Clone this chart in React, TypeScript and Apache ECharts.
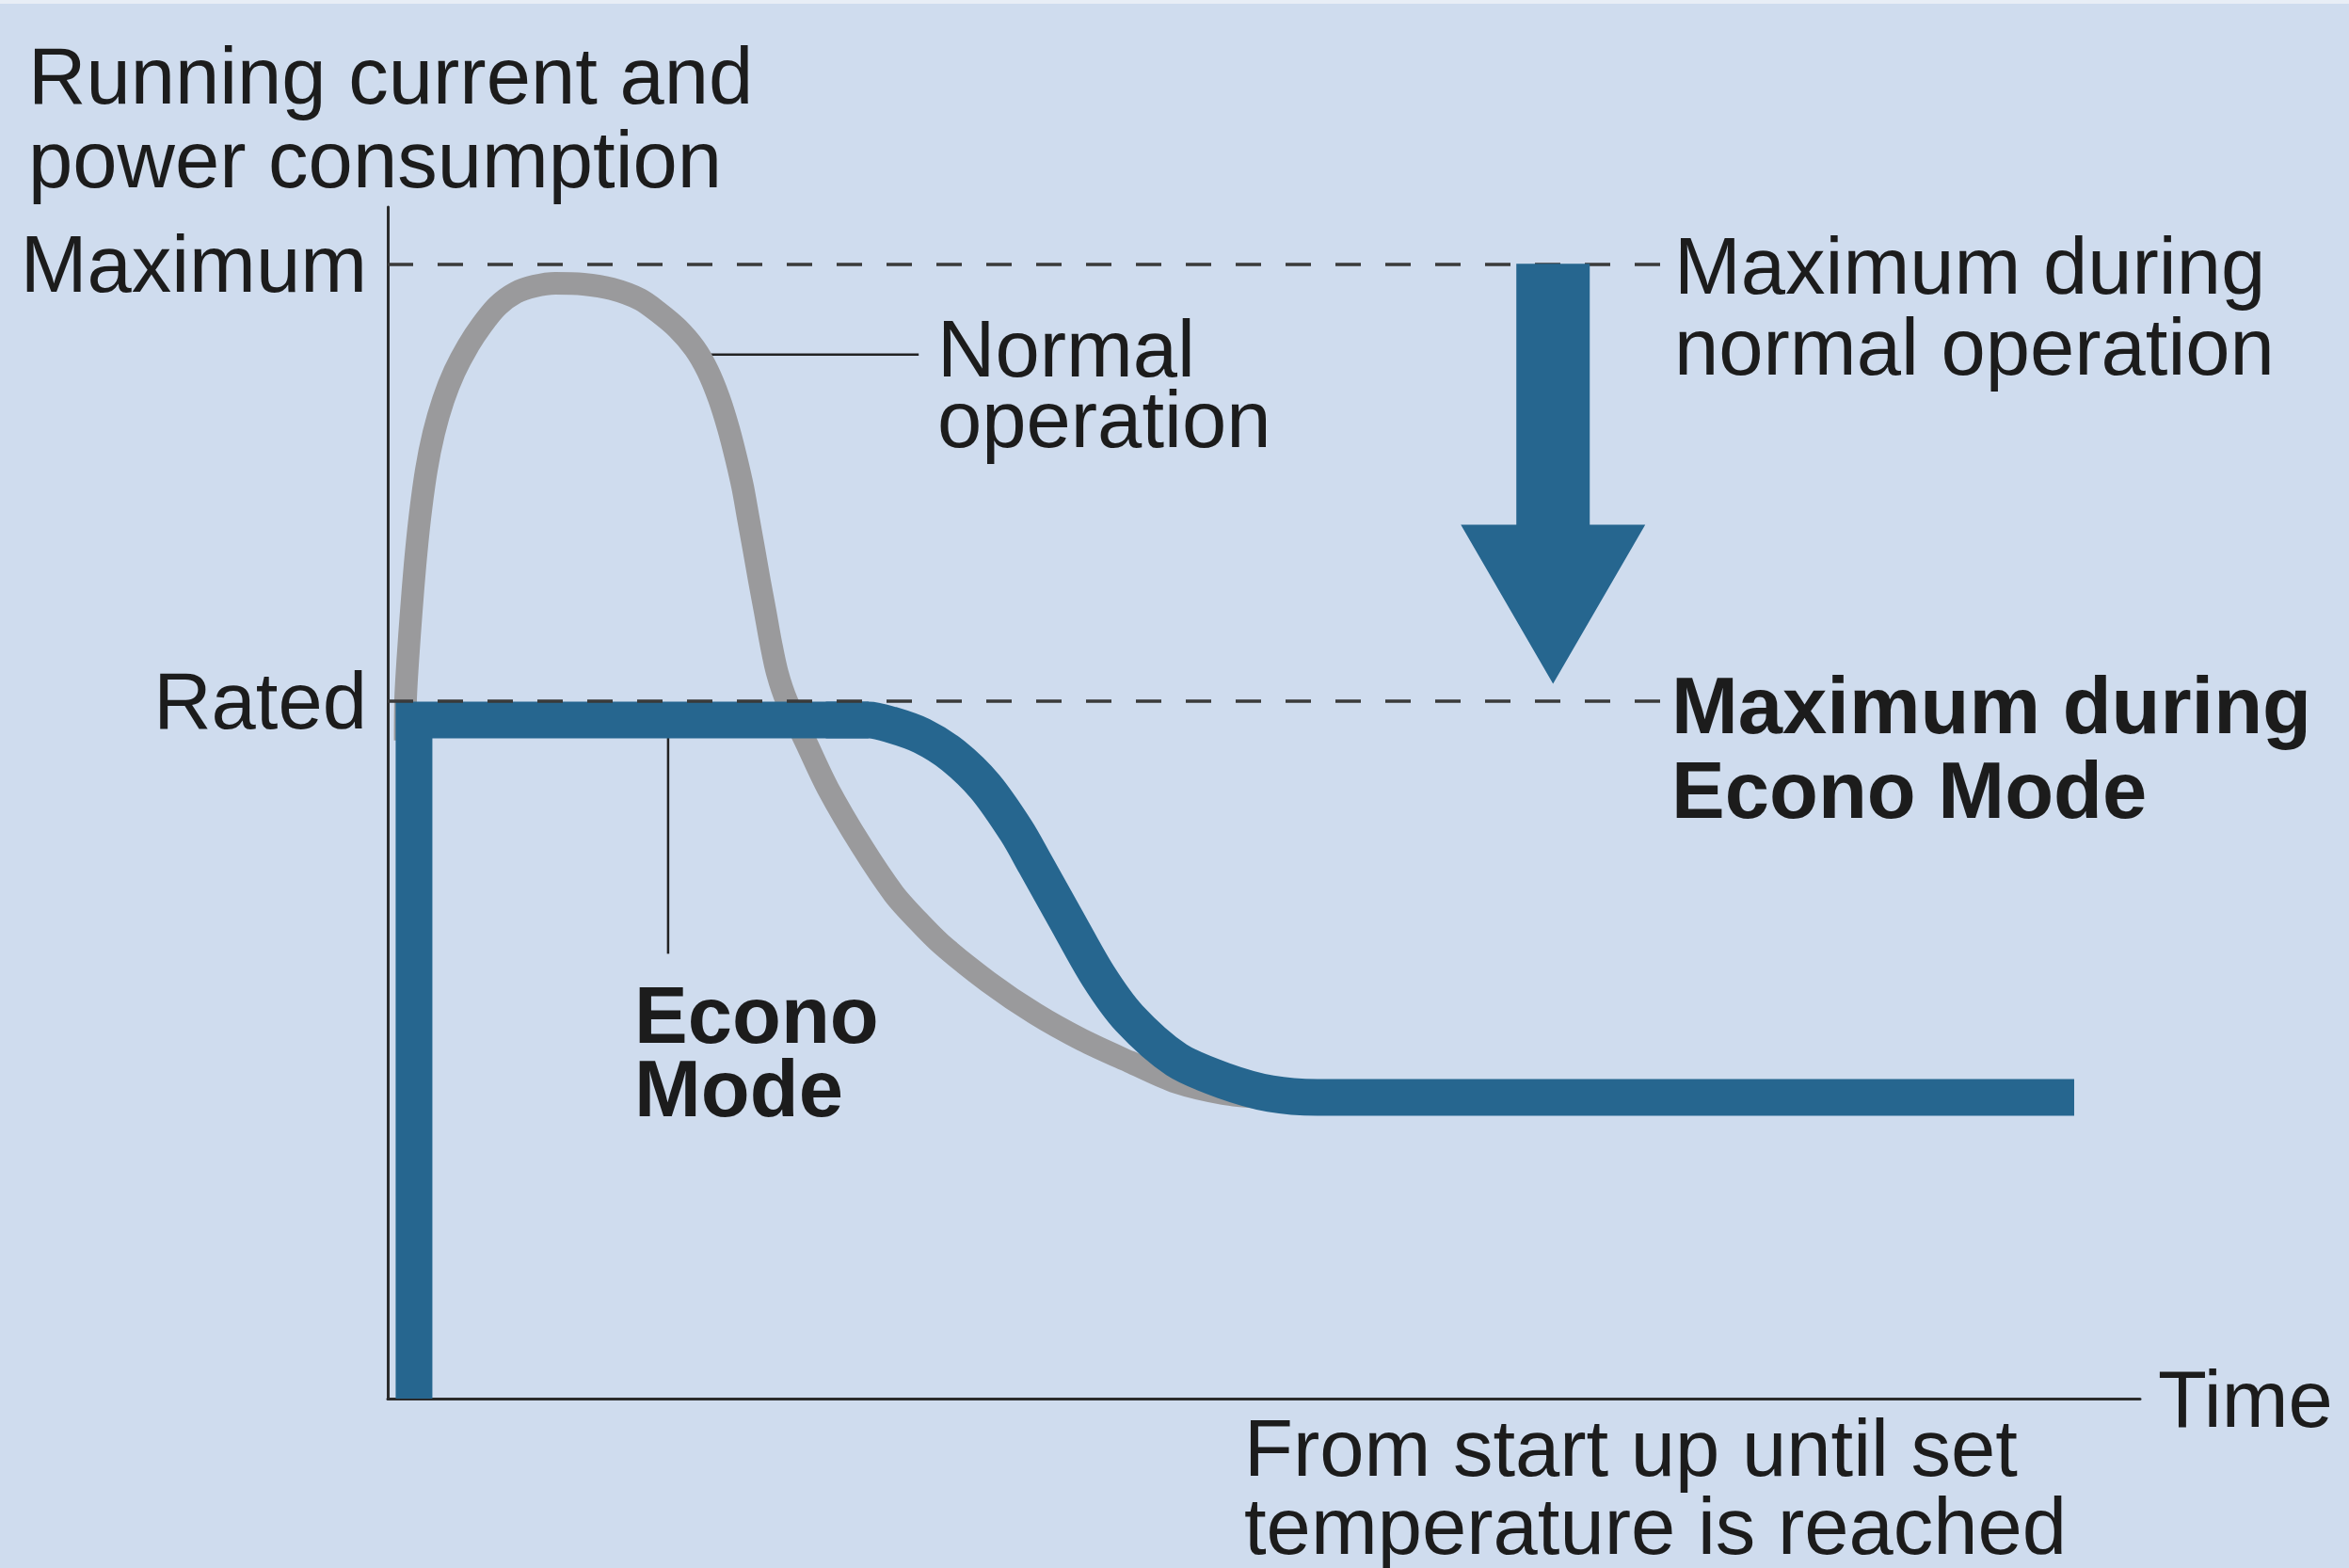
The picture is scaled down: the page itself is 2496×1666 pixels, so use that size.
import React, { useEffect, useRef } from "react";
import * as echarts from "echarts";

// Reference levels on the current axis
const levelNames = ["Rated", "Maximum"];
const levelValues = [61.5, 100];

// Normal operation curve (time, current)
const normalTime = [1.0, 1.02, 1.15, 1.34, 1.56, 1.83, 2.2, 2.63, 3.17, 3.81, 4.56, 5.37, 6.28, 7.3, 8.38, 9.56, 11.17, 12.78, 14.39, 15.47, 16.54, 17.51, 18.26, 18.9, 19.44, 19.87, 20.25, 20.57, 20.89, 21.21, 21.54, 21.86, 22.23, 22.77, 23.9, 25.13, 27.01, 28.89, 30.24, 31.58, 34.26, 36.95, 39.64, 42.32, 45.0, 47.69, 49.84];
const normalCurrent = [58, 61.6, 65.2, 69.3, 73.5, 77.6, 81.8, 85.1, 88.0, 90.5, 92.7, 94.6, 96.3, 97.45, 98.03, 98.28, 98.2, 97.79, 96.87, 95.7, 94.3, 92.56, 90.57, 88.16, 85.51, 82.94, 80.37, 77.63, 74.89, 72.07, 69.34, 66.6, 63.95, 61.46, 57.73, 53.74, 48.77, 44.46, 42.13, 40.06, 36.74, 33.92, 31.6, 29.69, 27.87, 26.87, 26.54];

// Econo Mode: start-up rise and flat limit just under the rated level
const econoRiseTime = [1.5, 1.5, 27.44];
const econoRiseCurrent = [0, 59.8, 59.8];

// Econo Mode: descent to steady state
const econoFallTime = [25, 27.44, 28.73, 30.5, 32.28, 34.1, 35.88, 36.95, 38.72, 40.55, 42.32, 45.01, 47.69, 50.38, 53.06, 96.24];
const econoFallCurrent = [59.8, 59.8, 59.38, 58.39, 56.65, 53.91, 50.01, 47.11, 42.22, 37.24, 33.51, 29.86, 28.03, 26.87, 26.54, 26.54];

// Leader lines for labels
const normalLeaderTime = [17.8, 30.3];
const normalLeaderCurrent = [92, 92];
const econoLeaderTime = [16.0, 16.0];
const econoLeaderCurrent = [59, 39.2];

// Level line extent and arrow (in data units)
const levelLineEnd = 72.8;
const arrowTime = 66.5;
const arrowFrom = 100;
const arrowHeadStart = 77;
const arrowTo = 63;

const FONT = "'Liberation Sans', Arial, Helvetica, sans-serif";
const TEXT = "#1c1c1c";
const BLUE = "#26668f";
const GRAY = "#9a9a9c";
const FS = 85;

const zip = (a: number[], b: number[]) => a.map((x, i) => [x, b[i]]);

export default function App() {
  const ref = useRef<HTMLDivElement>(null);

  useEffect(() => {
    if (!ref.current) return;
    const chart = echarts.init(ref.current, undefined, { renderer: "svg" });

    const lineBase = {
      type: "line" as const,
      showSymbol: false,
      symbol: "none",
      silent: true,
    };

    chart.setOption({
      animation: false,
      backgroundColor: "#cfdcee",
      grid: { left: 412, right: 222, top: 220, bottom: 180, containLabel: false },
      xAxis: {
        type: "value",
        min: 0,
        max: 100,
        axisLine: { show: true, lineStyle: { color: "#2b2b2b", width: 3 } },
        axisTick: { show: false },
        axisLabel: { show: false },
        splitLine: { show: false },
        name: "Time",
        nameLocation: "end",
        nameGap: 19,
        nameTextStyle: { fontSize: FS, fontFamily: FONT, color: TEXT, align: "left", verticalAlign: "middle", padding: [8, 0, 0, 0] },
      },
      yAxis: {
        type: "value",
        min: 0,
        max: 105,
        axisLine: { show: true, lineStyle: { color: "#2b2b2b", width: 3 } },
        axisTick: { show: false },
        splitLine: { show: false },
        axisLabel: {
          show: true,
          customValues: levelValues,
          formatter: (v: number) => {
            const i = levelValues.findIndex((x) => Math.abs(x - v) < 1e-6);
            return i >= 0 ? levelNames[i] : "";
          },
          fontSize: FS,
          fontFamily: FONT,
          color: TEXT,
          margin: 22,
          padding: [8, 0, 0, 0],
        },
      },
      series: [
        {
          ...lineBase,
          name: "normalLeader",
          z: 1,
          data: zip(normalLeaderTime, normalLeaderCurrent),
          lineStyle: { color: "#222", width: 2.5 },
        },
        {
          ...lineBase,
          name: "econoLeader",
          z: 1,
          data: zip(econoLeaderTime, econoLeaderCurrent),
          lineStyle: { color: "#222", width: 2.5 },
        },
        {
          ...lineBase,
          name: "Normal operation",
          z: 2,
          smooth: 0.3,
          data: zip(normalTime, normalCurrent),
          lineStyle: { color: GRAY, width: 24, cap: "butt", join: "round" },
        },
        {
          ...lineBase,
          name: "Econo Mode rise",
          z: 3,
          data: zip(econoRiseTime, econoRiseCurrent),
          lineStyle: { color: BLUE, width: 39, cap: "butt", join: "miter" },
        },
        {
          ...lineBase,
          name: "Econo Mode",
          z: 3,
          smooth: 0.3,
          data: zip(econoFallTime, econoFallCurrent),
          lineStyle: { color: BLUE, width: 39, cap: "butt", join: "round" },
        },
        {
          ...lineBase,
          name: "levels",
          z: 5,
          data: [],
          markLine: {
            silent: true,
            symbol: ["none", "none"],
            label: { show: false },
            lineStyle: { color: "#3a3a3a", width: 3.5, type: [27, 26] },
            data: levelValues.map((v) => [{ coord: [0, v] }, { coord: [levelLineEnd, v] }]),
          },
        },
      ],
    });

    const p = (u: number, v: number) => chart.convertToPixel({ gridIndex: 0 }, [u, v]) as number[];
    const top = p(arrowTime, arrowFrom);
    const head = p(arrowTime, arrowHeadStart);
    const tip = p(arrowTime, arrowTo);
    const cx = top[0];
    const sw = 39;
    const hw = 98;

    const block = (text: string, x: number, y: number, lineHeight: number, bold = false) => ({
      type: "text",
      x,
      y,
      silent: true,
      style: {
        text,
        fontSize: FS,
        fontFamily: FONT,
        fontWeight: bold ? "bold" : "normal",
        fill: TEXT,
        lineHeight,
        align: "left",
        verticalAlign: "top",
        textAlign: "left",
        textVerticalAlign: "top",
      },
    });

    chart.setOption({
      graphic: [
        { type: "rect", shape: { x: 0, y: 0, width: 2496, height: 4 }, style: { fill: "#e8eef6" }, silent: true },
        {
          type: "polygon",
          silent: true,
          shape: {
            points: [
              [cx - sw, top[1]],
              [cx + sw, top[1]],
              [cx + sw, head[1]],
              [cx + hw, head[1]],
              [cx, tip[1]],
              [cx - hw, head[1]],
              [cx - sw, head[1]],
            ],
          },
          style: { fill: BLUE },
          z: 10,
        },
        block("Running current and\npower consumption", 30, 36, 89),
        block("Normal\noperation", 996, 333, 75),
        block("Maximum during\nnormal operation", 1779, 239, 86),
        block("Maximum during\nEcono Mode", 1776, 704, 90, true),
        block("Econo\nMode", 674, 1039, 78, true),
        block("From start up until set\ntemperature is reached", 1322, 1497, 83),
      ],
    });

    return () => chart.dispose();
  }, []);

  return (
    <div
      ref={ref}
      style={{ position: "fixed", left: 0, top: 0, width: 2496, height: 1666 }}
    />
  );
}
